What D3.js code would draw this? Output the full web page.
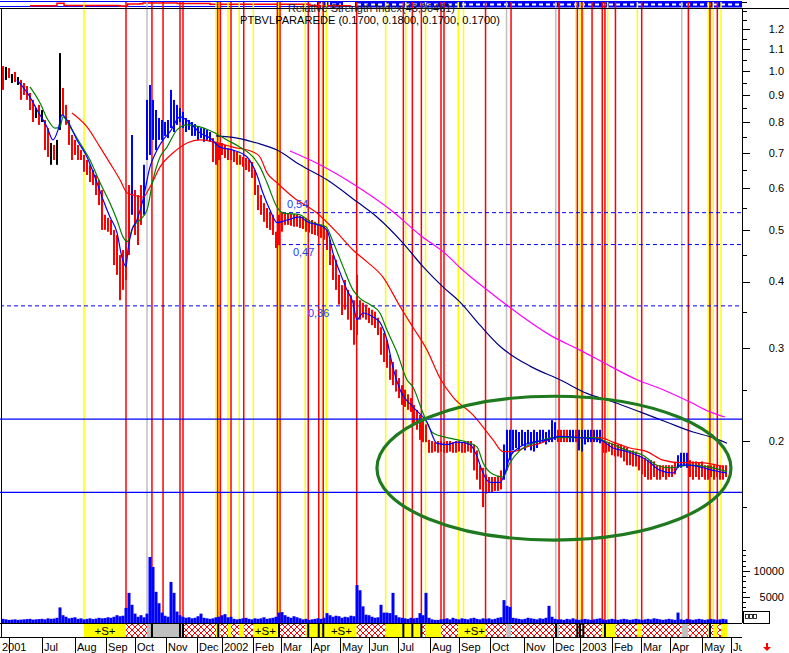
<!DOCTYPE html>
<html><head><meta charset="utf-8">
<script src="https://cdn.jsdelivr.net/npm/d3@7"></script>
<style>body{margin:0;background:#fff;}svg{display:block;font-family:"Liberation Sans",Arial,sans-serif;}</style>
</head><body><svg id="c" width="789" height="653"></svg>
<script>
// ---------- DATA (x unit = trading-session index, 2 sessions per bar) ----------
const priceHigh = [
1.022,1.018,1.013,0.987,0.996,0.974,0.962,0.949,0.937,0.909,
0.882,0.851,0.863,0.844,0.808,0.780,0.731,0.725,0.741,1.081,
0.929,0.863,0.808,0.757,0.741,0.725,0.709,0.694,0.679,0.665,
0.650,0.636,0.623,0.596,0.535,0.528,0.523,0.501,0.490,0.449,
0.459,0.480,0.609,0.757,0.596,0.583,0.609,0.665,0.882,0.941,
0.882,0.844,0.815,0.808,0.801,0.808,0.921,0.882,0.863,0.851,
0.837,0.815,0.808,0.801,0.794,0.787,0.780,0.780,0.774,0.767,
0.747,0.735,0.731,0.731,0.725,0.715,0.709,0.709,0.703,0.694,
0.688,0.685,0.679,0.673,0.650,0.609,0.583,0.563,0.551,0.542,
0.535,0.497,0.535,0.542,0.539,0.539,0.537,0.537,0.535,0.532,
0.530,0.528,0.523,0.523,0.519,0.514,0.512,0.510,0.501,0.480,
0.449,0.440,0.412,0.394,0.403,0.386,0.377,0.369,0.412,0.369,
0.365,0.362,0.357,0.354,0.351,0.342,0.328,0.320,0.310,0.291,
0.282,0.273,0.263,0.255,0.250,0.245,0.241,0.234,0.229,0.224,
0.219,0.215,0.201,0.200,0.199,0.200,0.200,0.199,0.200,0.200,
0.199,0.200,0.200,0.199,0.200,0.200,0.200,0.197,0.192,0.180,
0.178,0.173,0.171,0.171,0.171,0.172,0.176,0.197,0.210,0.210,
0.210,0.210,0.208,0.210,0.208,0.210,0.208,0.210,0.208,0.210,
0.210,0.208,0.210,0.219,0.217,0.210,0.210,0.210,0.210,0.210,
0.210,0.210,0.210,0.210,0.210,0.210,0.210,0.210,0.210,0.210,
0.199,0.199,0.199,0.198,0.199,0.197,0.197,0.195,0.194,0.192,
0.192,0.191,0.188,0.187,0.186,0.184,0.184,0.183,0.180,0.180,
0.180,0.180,0.180,0.180,0.182,0.188,0.190,0.190,0.190,0.184,
0.183,0.183,0.182,0.183,0.180,0.180,0.180,0.180,0.180,0.180,
0.180,0.180];
const priceLow = [
0.921,0.962,0.970,0.949,0.953,0.941,0.882,0.901,0.882,0.844,
0.801,0.815,0.791,0.801,0.709,0.688,0.665,0.679,0.665,0.774,
0.826,0.791,0.725,0.679,0.694,0.679,0.679,0.645,0.636,0.617,
0.609,0.583,0.558,0.501,0.501,0.497,0.490,0.430,0.412,0.369,
0.386,0.403,0.449,0.535,0.490,0.469,0.512,0.535,0.679,0.694,
0.741,0.709,0.741,0.741,0.754,0.747,0.780,0.767,0.791,0.801,
0.780,0.767,0.774,0.754,0.754,0.741,0.747,0.735,0.741,0.735,
0.673,0.665,0.679,0.694,0.685,0.679,0.679,0.673,0.665,0.665,
0.659,0.650,0.645,0.628,0.583,0.546,0.535,0.519,0.505,0.501,
0.490,0.463,0.469,0.497,0.512,0.512,0.510,0.508,0.508,0.505,
0.503,0.497,0.495,0.492,0.490,0.488,0.484,0.480,0.459,0.430,
0.403,0.386,0.362,0.346,0.354,0.339,0.324,0.304,0.317,0.339,
0.342,0.339,0.334,0.331,0.327,0.317,0.291,0.282,0.275,0.261,
0.255,0.248,0.241,0.234,0.232,0.229,0.227,0.215,0.210,0.201,
0.199,0.199,0.190,0.190,0.191,0.190,0.191,0.190,0.190,0.191,
0.190,0.190,0.191,0.190,0.190,0.191,0.190,0.176,0.169,0.162,
0.150,0.159,0.160,0.160,0.161,0.161,0.162,0.169,0.176,0.184,
0.192,0.194,0.192,0.196,0.192,0.197,0.192,0.191,0.194,0.198,
0.199,0.197,0.199,0.199,0.201,0.199,0.199,0.199,0.199,0.199,
0.199,0.199,0.192,0.191,0.197,0.199,0.199,0.199,0.199,0.198,
0.190,0.190,0.191,0.188,0.187,0.187,0.186,0.183,0.180,0.180,
0.179,0.179,0.176,0.173,0.171,0.169,0.169,0.171,0.169,0.169,
0.171,0.169,0.171,0.171,0.173,0.178,0.178,0.180,0.178,0.171,
0.169,0.171,0.169,0.171,0.169,0.169,0.171,0.169,0.171,0.169,
0.169,0.171];
// bar colour runs: r = down (red), b = up (blue), k = neutral (black)
const barColorRuns = [["r",1],["k",1],["r",1],["k",1],["r",1],["k",1],["r",5],["k",1],["r",1],["k",1],["r",2],["k",1],["r",1],["k",2],["r",23],["b",1],["r",3],["b",23],["r",97],["b",18],["r",4],["b",2],["r",1],["b",8],["r",25],["b",4],["r",13]];
const volume = [
800,700,600,650,700,600,650,700,750,800,
650,700,750,800,700,900,800,850,1000,3000,
1500,1200,900,1000,1100,800,900,700,800,900,
750,850,1000,900,950,1100,1000,1200,1500,1300,
1400,2900,5800,3500,1800,1200,1500,1100,1800,12700,
10800,6000,3800,2000,1400,1200,7900,5800,2200,1500,
1200,1000,1100,900,1000,1300,1800,1000,900,800,
900,1100,1200,1500,1700,1100,1200,800,700,800,
900,1000,800,700,900,800,900,1100,800,900,
1000,1200,2000,2100,1500,1200,1000,1300,1100,900,
700,800,600,700,800,900,800,1000,1900,1500,
1200,1400,1300,1000,1200,1100,1400,1300,7300,6300,
3200,1600,1500,1200,1000,1100,3500,2000,2000,1900,
5800,1500,1100,1000,900,800,1000,900,1000,1900,
1500,5800,1000,700,600,600,700,800,900,700,
1000,800,700,900,800,700,900,1000,800,700,
900,800,900,700,800,1000,1100,4400,3300,3100,
1000,900,800,700,800,1000,900,800,700,900,
800,1000,3300,1200,800,700,700,600,800,700,
900,700,600,700,800,700,600,700,800,900,
700,600,700,800,700,600,700,800,700,600,
700,800,700,600,700,800,700,900,800,700,
600,700,800,700,600,2000,700,600,800,700,
600,700,800,700,600,700,800,700,600,700,
800,700];
// moving averages [session, price]
const maFast = [[9.3,0.962],[18,0.893],[22.7,0.844],[29.3,0.784],[33.3,0.741],[36.7,0.774],[39.3,0.826],[42.7,0.808],[49.3,0.741],[56,0.688],[62.7,0.615],[66.7,0.571],[71.3,0.530],[76,0.495],[79.3,0.445],[82,0.427],[83.3,0.459],[86,0.501],[89.3,0.523],[93.3,0.571],[98,0.659],[102.7,0.709],[106.7,0.741],[111.3,0.767],[118,0.819],[124.7,0.798],[131.3,0.764],[138,0.747],[144.7,0.718],[153.3,0.709],[162.7,0.688],[169.3,0.636],[173.3,0.588],[178,0.546],[182.7,0.517],[189.3,0.523],[198,0.530],[202.7,0.519],[213.3,0.508],[216.7,0.495],[220,0.453],[224.7,0.416],[229.3,0.386],[233.3,0.365],[236,0.339],[240,0.349],[246.7,0.343],[251.3,0.335],[256,0.310],[260,0.275],[264.7,0.250],[273.3,0.232],[282.7,0.217],[289.3,0.198],[296,0.197],[302.7,0.199],[311.3,0.197],[316,0.187],[320,0.174],[324.7,0.167],[331.3,0.167],[334.7,0.174],[338,0.187],[344.7,0.195],[353.3,0.199],[362.7,0.201],[371.3,0.204],[384.7,0.203],[398,0.201],[406.7,0.194],[416,0.191],[429.3,0.184],[438,0.176],[446.7,0.174],[451.3,0.180],[458,0.180],[466.7,0.178],[473.3,0.176],[482.7,0.174]];
const maMid = [[18,0.933],[24.7,0.870],[30,0.808],[34.7,0.780],[38,0.784],[40,0.819],[44.7,0.784],[51.3,0.731],[58,0.679],[64.7,0.615],[71.3,0.563],[76,0.523],[80,0.486],[82.7,0.476],[86.7,0.508],[91.3,0.523],[96,0.546],[100,0.623],[104.7,0.688],[109.3,0.718],[116,0.774],[122.7,0.791],[131.3,0.784],[140,0.767],[149.3,0.741],[158,0.718],[166.7,0.688],[171.3,0.659],[176,0.615],[182.7,0.553],[186.7,0.539],[198,0.535],[204.7,0.519],[215.3,0.508],[220,0.476],[226.7,0.427],[233.3,0.386],[238,0.372],[244.7,0.362],[251.3,0.349],[256,0.324],[262.7,0.294],[269.3,0.261],[273.3,0.253],[280,0.226],[286.7,0.207],[296,0.203],[309.3,0.199],[316,0.195],[320,0.182],[326.7,0.173],[333.3,0.171],[338,0.182],[344.7,0.192],[356,0.199],[366.7,0.203],[378,0.203],[393.3,0.203],[404.7,0.198],[416,0.192],[426.7,0.188],[436,0.180],[444.7,0.178],[458,0.180],[473.3,0.178],[482.7,0.175]];
const maSlow = [[46,0.833],[56,0.784],[64.7,0.718],[71.3,0.670],[78,0.623],[82.7,0.589],[86.7,0.583],[93.3,0.578],[98,0.604],[104.7,0.659],[113.3,0.700],[122.7,0.731],[131.3,0.741],[140,0.735],[153.3,0.718],[166.7,0.703],[171.3,0.688],[176,0.642],[182.7,0.615],[193.3,0.578],[209.3,0.539],[222.7,0.495],[233.3,0.459],[242.7,0.436],[253.3,0.408],[264.7,0.359],[273.3,0.328],[282.7,0.297],[291.3,0.263],[300,0.242],[313.3,0.224],[326.7,0.201],[333.3,0.191],[340,0.191],[349.3,0.195],[358,0.198],[371.3,0.204],[384.7,0.203],[398,0.203],[406.7,0.199],[418,0.194],[429.3,0.191],[440,0.184],[451.3,0.182],[464.7,0.182],[480,0.179]];
const ma100 = [[142,0.754],[156,0.747],[169.3,0.731],[182.7,0.709],[198,0.665],[216,0.623],[236,0.566],[249.3,0.530],[266.7,0.473],[280,0.427],[293.3,0.391],[304.7,0.366],[318,0.331],[331.3,0.302],[351.3,0.277],[371.3,0.261],[389.3,0.246],[406.7,0.237],[424.7,0.227],[442.7,0.217],[460,0.208],[473.3,0.203],[482.7,0.198]];
const ma200 = [[191.3,0.706],[211.3,0.665],[231.3,0.617],[260,0.542],[278,0.490],[296,0.449],[304.7,0.425],[324.7,0.382],[344.7,0.346],[364.7,0.317],[384.7,0.297],[404.7,0.277],[422.7,0.261],[440,0.250],[458,0.237],[471.3,0.227],[481.3,0.222]];
// signal lines (session index)
const yellowSignals = [54,142,144,150,157.5,166.9,183.5,201.5,212.5,215.5,255.1,268.5,281.7,303.5,307,381.8,384.7,386.9,403.1,422.9,470.2,473.5,478.7];
const redSignals = [82,99.3,106.7,118,120,143.1,144.9,152,160.5,182.9,184.7,203.5,210.5,213.5,235.8,266.9,272.9,278.9,292,294,321.7,338.7,370.7,382.9,386,392.7,399.5,401.3,408.3,425.8,456.9,471.3,476.2];
const graySignals = [96,335.7,368.5,452.5];
// horizontal levels
const dashedLevels = [0.54,0.47,0.36];
const dashedLevelStart = [186,181.3,-2];
const dashedLevelLabels = ["0,54","0,47","0,36"];
const solidLevels = [0.22,0.16];
// state band
const bandSegments = [[54,82,"S"],[82,96,"h"],[96,120,"g"],[120,142,"h"],[142,144.9,"y"],[144.9,150,"h"],[150,152,"y"],[152,157.5,"h"],[157.5,160.5,"y"],[160.5,166.9,"h"],[166.9,182.9,"S"],[182.9,184.7,"y"],[184.7,201.5,"h"],[201.5,215.5,"y"],[215.5,235.8,"S"],[235.8,255.1,"h"],[255.1,278.9,"y"],[278.9,281.7,"h"],[281.7,292,"y"],[292,303.5,"h"],[303.5,307,"y"],[307,321.7,"S"],[321.7,335.7,"h"],[335.7,338.7,"g"],[338.7,368.5,"h"],[368.5,370.7,"g"],[370.7,399.5,"h"],[399.5,408.3,"y"],[408.3,422.9,"h"],[422.9,425.8,"y"],[425.8,452.5,"h"],[452.5,456.9,"g"],[456.9,470.2,"h"],[470.2,471.3,"y"],[471.3,473.5,"h"],[473.5,476.2,"y"],[476.2,478.7,"h"],[478.7,482.7,"y"]];
const bandMarks = [99.3,118,120,143.5,184,203.5,210.5,213.5,266.9,272.9,278.9,368.7,382.9,384.7,386.9,401.3,471.3];
// axis
const monthLabels = ["2001","Jul","Aug","Sep","Oct","Nov","Dec","2002","Feb","Mar","Apr","May","Jun","Jul","Aug","Sep","Oct","Nov","Dec","2003","Feb","Mar","Apr","May","Jun"];
const monthSessions = [4,26,48,68.7,88,108.7,129.3,146,166.7,185.3,205.3,224.7,244,263.3,284.7,304,324.7,347.3,366.7,384.7,406,425.3,444.7,466,485.3];
const priceTicks = [0.2,0.3,0.4,0.5,0.6,0.7,0.8,0.9,1.0,1.1,1.2];
const priceMinorTicks = [0.15,0.25,0.35,0.45,0.55,0.65,0.75,0.85,0.95,1.05,1.15,1.25,1.3,1.35];
const volumeTicks = [5000,10000];
const volumeMinorTicks = [3000,4000,6000,7000,8000,9000,11000,12000,13000,14000];
// RSI strip (value 0-100)
const rsi = [[18,25],[34.7,25],[36,62],[39.3,62],[40.7,30],[76.7,25],[78,20],[82,20],[83,50],[91.3,55],[93.3,65],[113.3,65],[116,58],[136,58],[138,45],[204.7,30],[208.7,25],[232,25]];
const rsiHighZones = [[209.3,217],[218,226.7],[234.7,492.7]];
const ellipseBox = {s0:249.3, s1:485.3, pTop:0.243, pBottom:0.130};
const titleText = "PTBVLPARAREDE (0.1700, 0.1800, 0.1700, 0.1700)";
const rsiText = "Relative Strength Index(43,90461)";

// ---------- SCALES ----------
const x = d3.scaleLinear().domain([0,492]).range([3,741]);
const y = d3.scaleLog().domain([0.2,1.0]).range([441,71]);
const yv = d3.scaleLinear().domain([0,10000]).range([623,571]);
const yr = d3.scaleLinear().domain([0,100]).range([7.5,0.5]);
const colorOf = {r:"#ff0000",b:"#0000ff",k:"#000000"};
const barColors = barColorRuns.flatMap(([c,n])=>Array(n).fill(c));
const bars = priceHigh.map((h,i)=>({s:i*2,h,l:priceLow[i],c:barColors[i],v:volume[i]}));

const svg = d3.select("#c");
svg.append("rect").attr("width",789).attr("height",653).attr("fill","#fff");
const defs = svg.append("defs");
const pat = defs.append("pattern").attr("id","hatch").attr("patternUnits","userSpaceOnUse").attr("width",6).attr("height",6);
pat.append("rect").attr("width",6).attr("height",6).attr("fill","#fff");
pat.append("path").attr("d","M0,0L6,6M6,0L0,6").attr("stroke","#ff0000").attr("stroke-width",1);
defs.append("clipPath").attr("id","plot").append("rect").attr("x",2).attr("y",9).attr("width",740).attr("height",614);
defs.append("clipPath").attr("id","dates").append("rect").attr("x",0).attr("y",638).attr("width",742).attr("height",15);
defs.append("clipPath").attr("id","axisclip").append("rect").attr("x",742).attr("y",0).attr("width",47).attr("height",624);

// ---------- RSI header ----------
const hdr = svg.append("g");
hdr.append("line").attr("x1",0).attr("x2",742).attr("y1",1.5).attr("y2",1.5).attr("stroke","#0000ff");
hdr.append("line").attr("x1",0).attr("x2",742).attr("y1",6.5).attr("y2",6.5).attr("stroke","#0000ff");
hdr.selectAll(".z").data(rsiHighZones).join("rect").attr("x",d=>x(d[0])).attr("width",d=>x(d[1])-x(d[0])).attr("y",1).attr("height",6.5).attr("fill","#0000ff");
hdr.selectAll(".zl").data(rsiHighZones).join("line").attr("x1",d=>x(d[0])+2).attr("x2",d=>x(d[1])-2).attr("y1",4.5).attr("y2",4.5).attr("stroke","#fff").attr("stroke-width",2).attr("stroke-dasharray","4,3");
hdr.append("path").datum(rsi).attr("fill","none").attr("stroke","#ff0000").attr("stroke-width",1.5)
  .attr("d",d3.line().x(d=>x(d[0])).y(d=>yr(d[1])).curve(d3.curveStepAfter));

// ---------- signal lines ----------
const sig = svg.append("g");
[[graySignals,"#c0c0c0"],[yellowSignals,"#ffff00"],[redSignals,"#ff0000"]].forEach(([arr,c])=>{
  sig.selectAll(null).data(arr).join("line")
    .attr("x1",d=>x(d)).attr("x2",d=>x(d)).attr("y1",2).attr("y2",623)
    .attr("stroke",c).attr("stroke-width",1.5);
});

// ---------- level lines ----------
const plot = svg.append("g").attr("clip-path","url(#plot)");
dashedLevels.forEach((p,i)=>{
  plot.append("line").attr("x1",x(dashedLevelStart[i])).attr("x2",742).attr("y1",y(p)).attr("y2",y(p))
    .attr("stroke","#0000ff").attr("stroke-width",1).attr("stroke-dasharray","4,3");
});
solidLevels.forEach(p=>{
  svg.append("line").attr("x1",0).attr("x2",742).attr("y1",y(p)).attr("y2",y(p)).attr("stroke","#0000ff").attr("stroke-width",1.2);
});

// ---------- price bars ----------
plot.selectAll(".bar").data(bars).join("rect")
  .attr("x",d=>x(d.s)-1).attr("width",2)
  .attr("y",d=>y(d.h)).attr("height",d=>Math.max(1,y(d.l)-y(d.h)))
  .attr("fill",d=>colorOf[d.c]);

// ---------- moving averages ----------
const line = d3.line().x(d=>x(d[0])).y(d=>y(d[1])).curve(d3.curveMonotoneX);
[[ma200,"#ff00ff"],[ma100,"#000080"],[maSlow,"#ff0000"],[maMid,"#008000"],[maFast,"#0000ff"]].forEach(([arr,c])=>{
  plot.append("path").datum(arr).attr("d",line).attr("fill","none").attr("stroke",c).attr("stroke-width",1.2);
});

// level labels
dashedLevels.forEach((p,i)=>{
  const off = i===0 ? -5 : 11;
  const sx = [189.3,193.3,203.3][i];
  svg.append("text").attr("x",x(sx)).attr("y",y(p)+off).text(dashedLevelLabels[i])
    .attr("font-size",11).attr("fill","#1a3cff");
});

// ellipse annotation
svg.append("ellipse")
  .attr("cx",(x(ellipseBox.s0)+x(ellipseBox.s1))/2).attr("cy",(y(ellipseBox.pTop)+y(ellipseBox.pBottom))/2)
  .attr("rx",(x(ellipseBox.s1)-x(ellipseBox.s0))/2).attr("ry",(y(ellipseBox.pBottom)-y(ellipseBox.pTop))/2)
  .attr("fill","none").attr("stroke","#1f7a1f").attr("stroke-width",3.2);

// ---------- volume ----------
svg.append("g").selectAll("rect").data(bars).join("rect")
  .attr("x",d=>x(d.s)-1.5).attr("width",3)
  .attr("y",d=>yv(d.v)).attr("height",d=>623-yv(d.v)).attr("fill","#0000ff");

// ---------- state band ----------
const band = svg.append("g");
band.append("rect").attr("x",0).attr("y",623.5).attr("width",742).attr("height",14).attr("fill","#fff");
band.selectAll(".seg").data(bandSegments).join("rect")
  .attr("x",d=>x(d[0])).attr("width",d=>x(d[1])-x(d[0])).attr("y",623.5).attr("height",14)
  .attr("fill",d=>d[2]==="h"?"url(#hatch)":d[2]==="g"?"#c0c0c0":"#ffff00");
band.selectAll(".mk").data(bandMarks).join("rect")
  .attr("x",d=>x(d)-1).attr("width",2).attr("y",623.5).attr("height",14).attr("fill","#000");
band.selectAll(".st").data(bandSegments.filter(d=>d[2]==="S")).join("text")
  .attr("x",d=>(x(d[0])+x(d[1]))/2).attr("y",635).attr("text-anchor","middle")
  .attr("font-size",11.5).text("+S+");
band.append("line").attr("x1",0).attr("x2",742).attr("y1",623.5).attr("y2",623.5).attr("stroke","#000");
band.append("line").attr("x1",0).attr("x2",742).attr("y1",637.5).attr("y2",637.5).attr("stroke","#000");

// ---------- frame ----------
svg.append("line").attr("x1",0).attr("x2",789).attr("y1",8.5).attr("y2",8.5).attr("stroke","#000");
svg.append("line").attr("x1",1.5).attr("x2",1.5).attr("y1",8).attr("y2",638).attr("stroke","#000");
svg.append("line").attr("x1",742.5).attr("x2",742.5).attr("y1",8).attr("y2",623).attr("stroke","#000");

// ---------- right axis ----------
const ax = svg.append("g").attr("clip-path","url(#axisclip)");
ax.selectAll(".mt").data(priceTicks).join("line").attr("x1",742).attr("x2",750).attr("y1",d=>Math.round(y(d))+0.5).attr("y2",d=>Math.round(y(d))+0.5).attr("stroke","#000");
ax.selectAll(".nt").data(priceMinorTicks).join("line").attr("x1",742).attr("x2",747).attr("y1",d=>Math.round(y(d))+0.5).attr("y2",d=>Math.round(y(d))+0.5).attr("stroke","#000");
svg.selectAll(".pl").data(priceTicks).join("text").attr("x",784).attr("y",d=>y(d)).attr("dy","0.35em")
  .attr("text-anchor","end").attr("font-size",11).text(d=>d.toFixed(1));
ax.selectAll(".vt").data(volumeTicks).join("line").attr("x1",742).attr("x2",750).attr("y1",d=>Math.round(yv(d))+0.5).attr("y2",d=>Math.round(yv(d))+0.5).attr("stroke","#000");
ax.selectAll(".vn").data(volumeMinorTicks).join("line").attr("x1",742).attr("x2",746).attr("y1",d=>Math.round(yv(d))+0.5).attr("y2",d=>Math.round(yv(d))+0.5).attr("stroke","#000");
svg.selectAll(".vl").data(volumeTicks).join("text").attr("x",784).attr("y",d=>yv(d)).attr("dy","0.35em")
  .attr("text-anchor","end").attr("font-size",11).text(d=>d);
// small legend box
svg.append("rect").attr("x",743.5).attr("y",611.5).attr("width",26).attr("height",12).attr("fill","none").attr("stroke","#000");
[745,749,753].forEach(v=>svg.append("rect").attr("x",v+0.5).attr("y",614.5).attr("width",3).attr("height",4).attr("fill","none").attr("stroke","#000").attr("stroke-width",0.8));

// ---------- date axis ----------
const da = svg.append("g").attr("clip-path","url(#dates)");
da.selectAll("line").data(monthSessions).join("line").attr("x1",d=>Math.round(x(d))+0.5).attr("x2",d=>Math.round(x(d))+0.5)
  .attr("y1",638).attr("y2",653).attr("stroke","#000");
da.selectAll("text").data(monthLabels).join("text")
  .attr("x",(d,i)=>i===0?2:x(monthSessions[i])+2).attr("y",651).attr("font-size",11).text(d=>d);
// red arrow
svg.append("path").attr("d","M766,643V647H763L767,651L771,647H768V643Z").attr("fill","#ff0000");

// ---------- titles ----------
svg.append("text").attr("x",288).attr("y",11.5).attr("font-size",10).attr("textLength",167).attr("lengthAdjust","spacingAndGlyphs").attr("fill","#222").text(rsiText);
svg.append("text").attr("x",240).attr("y",23.5).attr("font-size",11).attr("textLength",260).attr("lengthAdjust","spacingAndGlyphs").attr("fill","#000").text(titleText);
</script></body></html>
